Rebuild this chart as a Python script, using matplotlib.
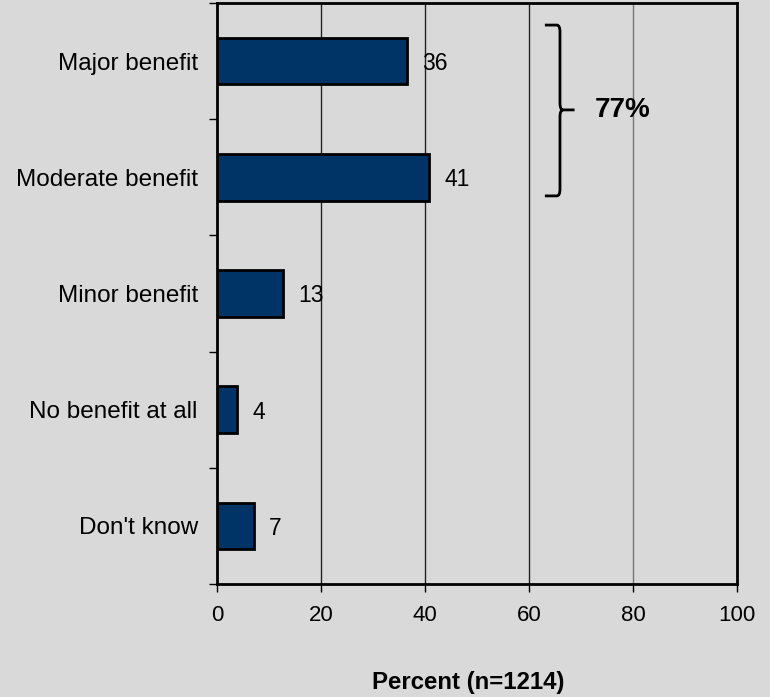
import matplotlib
matplotlib.use("Agg")
import matplotlib.pyplot as plt
from matplotlib.path import Path
from matplotlib.patches import PathPatch

categories = ["Major benefit", "Moderate benefit", "Minor benefit",
              "No benefit at all", "Don't know"]
percent = [36.4, 40.7, 12.7, 3.8, 7.1]
value_labels = ["36", "41", "13", "4", "7"]
bracket_label = "77%"
x_ticks = [0, 20, 40, 60, 80, 100]

plt.rcParams["font.family"] = ["Liberation Sans", "DejaVu Sans"]

BG = "#d9d9d9"
BAR = "#003366"

fig = plt.figure(figsize=(7.7, 6.97), dpi=100, facecolor=BG)
ax = fig.add_axes([217.3 / 770, 1 - 584 / 697, 520 / 770, 581 / 697])
ax.set_facecolor(BG)

ypos = list(range(len(categories)))
ax.barh(ypos, percent, height=0.4, color=BAR, edgecolor="black",
        linewidth=2, zorder=3)
for y, v, lab in zip(ypos, percent, value_labels):
    ax.text(v + 2.9, y + 0.02, lab, ha="left", va="center", fontsize=16.5,
            zorder=4)

ax.set_xlim(0, 100)
ax.set_ylim(len(categories) - 0.5, -0.5)
ax.set_xticks(x_ticks)
ax.tick_params(axis="x", direction="out", length=6, width=1, pad=9,
               labelsize=16)

ax.set_yticks(ypos)
ax.set_yticklabels(categories, fontsize=17.5)
ax.set_yticks([y - 0.5 for y in range(len(categories) + 1)], minor=True)
ax.tick_params(axis="y", which="major", length=0, pad=14)
ax.tick_params(axis="y", which="minor", direction="out", length=6, width=1)

for x in x_ticks[1:-1]:
    ax.axvline(x, color="#222222" if x < 80 else "#777777", linewidth=1, zorder=1)

for s in ax.spines.values():
    s.set_color("black")
    s.set_linewidth(2)

# bracket grouping the first two categories
x0, x1, xt = 63.0, 65.9, 68.7
ytop, ymid, ybot = -0.31, 0.42, 1.16
r = 0.06
verts = [
    (x0, ytop), (x1 - 0.6, ytop), (x1, ytop), (x1, ytop + r),
    (x1, ymid - r), (x1, ymid), (x1 + 0.6, ymid), (xt, ymid),
    (x1 + 0.6, ymid), (x1, ymid), (x1, ymid + r),
    (x1, ybot - r), (x1, ybot), (x1 - 0.6, ybot), (x0, ybot),
]
codes = [Path.MOVETO, Path.LINETO, Path.CURVE3, Path.CURVE3,
         Path.LINETO, Path.CURVE3, Path.CURVE3, Path.LINETO,
         Path.MOVETO, Path.CURVE3, Path.CURVE3,
         Path.LINETO, Path.CURVE3, Path.CURVE3, Path.LINETO]
ax.add_patch(PathPatch(Path(verts, codes), facecolor="none",
                       edgecolor="black", linewidth=2, zorder=4))
ax.text(72.6, ymid, bracket_label, ha="left", va="center", fontsize=20,
        fontweight="bold", zorder=4)

fig.text(468 / 770, 1 - 683 / 697, "Percent (n=1214)", ha="center",
         va="center", fontsize=17.3, fontweight="bold")

fig.savefig("out.png", dpi=100, facecolor=BG)
